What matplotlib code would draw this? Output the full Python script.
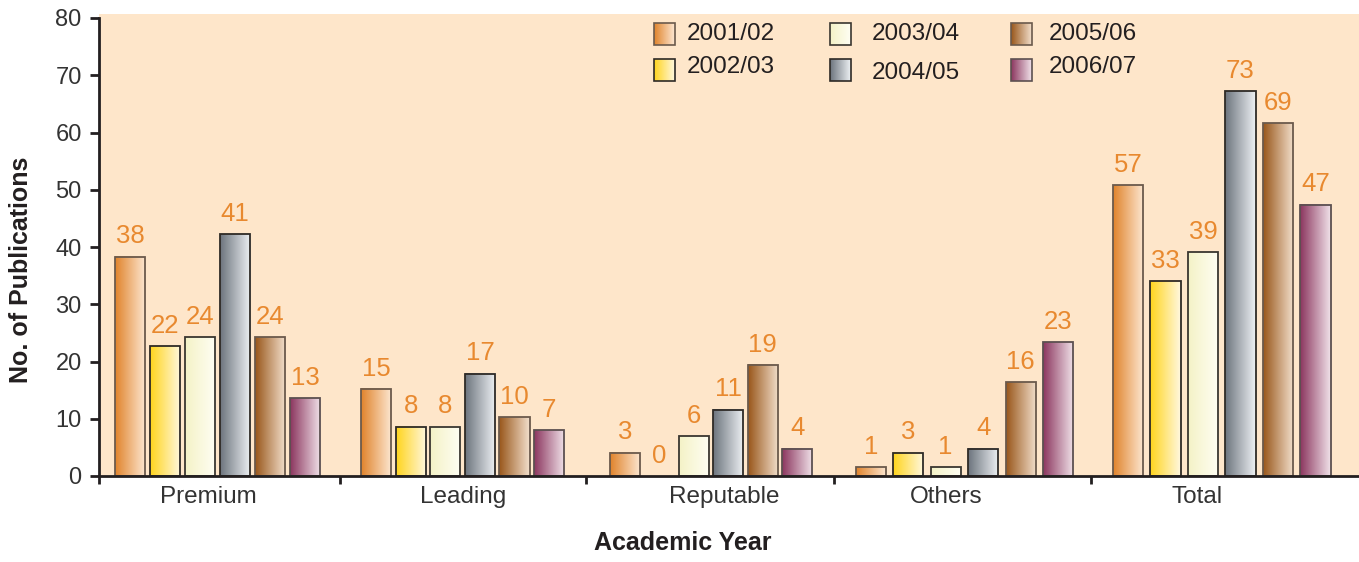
import numpy as np
import matplotlib
matplotlib.use("Agg")
import matplotlib.pyplot as plt
from matplotlib.colors import LinearSegmentedColormap


categories = ["Premium", "Leading", "Reputable", "Others", "Total"]
years = ["2001/02", "2002/03", "2003/04", "2004/05", "2005/06", "2006/07"]

# bar heights as drawn in the chart (rows = years, cols = categories)
heights = [
    [38.3, 15.2, 4.1, 1.5, 50.8],
    [22.7, 8.6, 0.0, 4.1, 34.0],
    [24.2, 8.6, 6.9, 1.5, 39.1],
    [42.2, 17.9, 11.6, 4.8, 67.2],
    [24.2, 10.3, 19.4, 16.4, 61.6],
    [13.6, 8.0, 4.8, 23.4, 47.4],
]
# numbers printed above the bars
labels = [
    [38, 15, 3, 1, 57],
    [22, 8, 0, 3, 33],
    [24, 8, 6, 1, 39],
    [41, 17, 11, 4, 73],
    [24, 10, 19, 16, 69],
    [13, 7, 4, 23, 47],
]

dark = ["#E0832B", "#FFD41C", "#F4F2C6", "#6C747D", "#98561A", "#8B355E"]
light = ["#FDE8D3", "#FFF8E0", "#FFFEF4", "#EEF1F4", "#F3E0CD", "#F1E3EA"]
edges = ["#6b5a4c", "#2e2a26", "#3a3630", "#2e2a26", "#6b5a4c", "#5c5050"]

BG = "#FEE6CA"
INK = "#231F20"
ORANGE = "#E8892F"
FONT = "Liberation Sans"

# layout (units of one group spacing)
group_x = [0.0, 0.996, 2.006, 3.036, 4.082]
group_step = [0.1423, 0.1407, 0.1402, 0.1524, 0.1524]
bar_w = 0.123
label_x = [-0.039, 1.0, 2.059, 2.963, 3.98]
bound_x = [-0.482, 0.498, 1.498, 2.506, 3.551]

W, H = 1359, 562
fig = plt.figure(figsize=(W / 100, H / 100), dpi=100)
ax_l, ax_r, ax_b, ax_t = 99, 1359, 476, 14
ax = fig.add_axes([ax_l / W, 1 - ax_b / H, (ax_r - ax_l) / W, (ax_b - ax_t) / H])
ax.set_facecolor(BG)

grad = np.linspace(0, 1, 256).reshape(1, -1)
cmaps = [LinearSegmentedColormap.from_list(f"g{i}", [dark[i], light[i]]) for i in range(6)]

for j in range(len(years)):
    for i in range(len(categories)):
        h = heights[j][i]
        xc = group_x[i] + (j - 2.5) * group_step[i]
        x0, x1 = xc - bar_w / 2, xc + bar_w / 2
        if h > 0:
            ax.imshow(grad, extent=[x0, x1, 0, h], aspect="auto", cmap=cmaps[j],
                      zorder=2, interpolation="bilinear")
            ax.bar(xc, h, width=bar_w, fill=False, edgecolor=edges[j],
                   linewidth=1.3, zorder=3)
        ax.annotate(str(labels[j][i]), (xc, h), xytext=(0, 6), textcoords="offset points",
                    ha="center", va="bottom", color=ORANGE, fontsize=18.5, family=FONT)

ax.set_xlim(-0.482, 4.64)
ax.set_ylim(0, 80 * (ax_b - ax_t) / (ax_b - 18))

for s in ["top", "right"]:
    ax.spines[s].set_visible(False)
ax.spines["left"].set_bounds(0, 80)
for s in ["left", "bottom"]:
    ax.spines[s].set_linewidth(2.0)
    ax.spines[s].set_color(INK)
    ax.spines[s].set_zorder(5)

ax.set_yticks(range(0, 81, 10))
ax.tick_params(axis="y", direction="out", length=6.5, width=2, color=INK, pad=6,
               labelsize=17, labelcolor="#333333")
ax.set_xticks(bound_x)
ax.set_xticklabels([])
ax.tick_params(axis="x", direction="out", length=6, width=2, color=INK)
for lab in ax.get_yticklabels():
    lab.set_family(FONT)

for i, c in enumerate(categories):
    ax.text(label_x[i], -1.8, c, ha="center", va="top", fontsize=17.5,
            color="#333333", family=FONT, clip_on=False)

fig.text(21 / W, 1 - 270 / H, "No. of Publications", rotation=90, ha="center", va="center",
         fontsize=18, fontweight="bold", color=INK, family=FONT)
fig.text(683 / W, 1 - 543 / H, "Academic Year", ha="center", va="center",
         fontsize=18, fontweight="bold", color=INK, family=FONT)

# legend drawn by hand in pixel layout
def fx(px):
    return (px - ax_l) / (ax_r - ax_l)


def fy(py):
    return (ax_b - py) / (ax_b - ax_t)


box_x = [654, 654, 830, 830, 1011, 1011]
box_y = [23, 59, 23, 59, 23, 59]
text_x = [687, 687, 872, 872, 1049, 1049]
text_dy = [0, -3, 0, 3, 0, -3]
for j, yr in enumerate(years):
    x0, x1 = fx(box_x[j]), fx(box_x[j] + 21)
    y1, y0 = fy(box_y[j]), fy(box_y[j] + 22)
    ax.imshow(grad, extent=[x0, x1, y0, y1], aspect="auto", cmap=cmaps[j],
              transform=ax.transAxes, zorder=4, interpolation="bilinear")
    ax.add_patch(plt.Rectangle((x0, y0), x1 - x0, y1 - y0, transform=ax.transAxes,
                               fill=False, edgecolor=edges[j], linewidth=1.2, zorder=5))
    ax.text(fx(text_x[j]), fy(box_y[j] + 11 + text_dy[j]), yr, transform=ax.transAxes,
            ha="left", va="center", fontsize=17.5, color=INK, family=FONT)

ax.set_xlim(-0.482, 4.64)
ax.set_ylim(0, 80 * (ax_b - ax_t) / (ax_b - 18))

fig.savefig("out.png", dpi=100)
plt.close(fig)
